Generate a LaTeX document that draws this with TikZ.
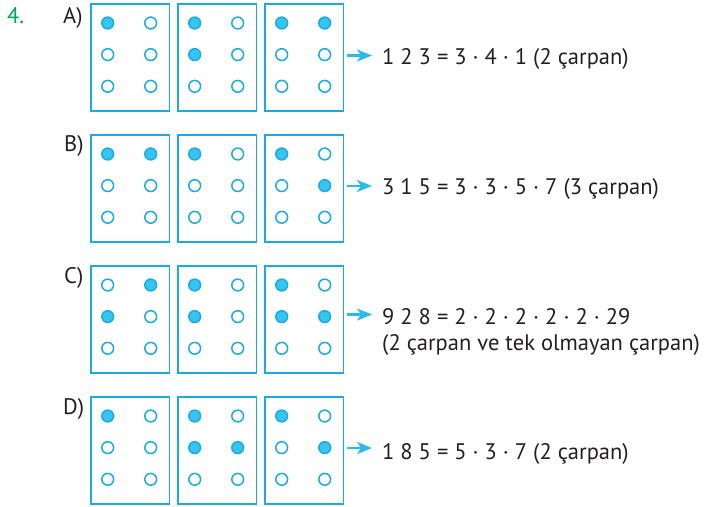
\documentclass[tikz,border=0pt]{standalone}
\usepackage{fontspec}
\setmainfont{PT Sans}
\usetikzlibrary{arrows.meta}
\definecolor{boxc}{RGB}{28,170,225}
\definecolor{dotc}{RGB}{54,197,240}
\definecolor{txt}{RGB}{35,31,32}
\definecolor{grn}{RGB}{0,166,81}
\tikzset{
  cell/.style={draw=boxc,line width=1.7pt,minimum width=78.4pt,minimum height=106.8pt,inner sep=0pt,anchor=north west},
  dot0/.style={circle,draw=boxc,line width=1.5pt,fill=white,minimum size=11.8pt,inner sep=0pt},
  dot1/.style={dot0,fill=dotc},
  lbl/.style={text=txt,font=\fontsize{22.5}{26}\selectfont,inner sep=0pt,anchor=base west},
  arr/.style={draw=dotc!60!boxc,line width=2.2pt,-{Stealth[length=15pt,width=12pt,inset=4pt]}}
}
\newcommand\brcell[9]{%
  \node[cell] (#1) at (#2+0.8,#3+0.8) {};
  \node[dot#4] (#1-a) at (#2+18.4,#3+20.7) {};
  \node[dot#5] (#1-b) at (#2+61.4,#3+20.7) {};
  \node[dot#6] (#1-c) at (#2+18.4,#3+52.3) {};
  \node[dot#7] (#1-d) at (#2+61.4,#3+52.3) {};
  \node[dot#8] (#1-e) at (#2+18.4,#3+84) {};
  \node[dot#9] (#1-f) at (#2+61.4,#3+84) {};
}
\begin{document}
\begin{tikzpicture}[x=1pt,y=-1pt]
\useasboundingbox (0,0) rectangle (708,506);
\node[lbl,text=grn] (num) at (7,23) {4.};
% Row A
\node[lbl] (labA) at (63,23) {A)};
\brcell{A1}{89.3}{2.3}{1}{0}{0}{0}{0}{0}
\brcell{A2}{176.3}{2.3}{1}{0}{1}{0}{0}{0}
\brcell{A3}{263.3}{2.3}{1}{1}{0}{0}{0}{0}
\coordinate (aA1) at (347,55.5);
\coordinate (aA2) at (372,55.5);
\draw[arr] (aA1) -- (aA2);
\node[lbl] (tA) at (382,64.3) {1 2 3 = 3 · 4 · 1 (2 çarpan)};
% Row B
\node[lbl] (labB) at (64,151.7) {B)};
\brcell{B1}{89.3}{133.3}{1}{1}{0}{0}{0}{0}
\brcell{B2}{176.3}{133.3}{1}{0}{0}{0}{0}{0}
\brcell{B3}{263.3}{133.3}{1}{0}{0}{1}{0}{0}
\coordinate (aB1) at (347,186);
\coordinate (aB2) at (372,186);
\draw[arr] (aB1) -- (aB2);
\node[lbl] (tB) at (382,194.3) {3 1 5 = 3 · 3 · 5 · 7 (3 çarpan)};
% Row C
\node[lbl] (labC) at (64,283.3) {C)};
\brcell{C1}{89.3}{264.3}{0}{1}{1}{0}{0}{0}
\brcell{C2}{176.3}{264.3}{1}{0}{1}{0}{0}{0}
\brcell{C3}{263.3}{264.3}{1}{0}{1}{1}{0}{0}
\coordinate (aC1) at (347,314.5);
\coordinate (aC2) at (372,314.5);
\draw[arr] (aC1) -- (aC2);
\node[lbl] (tC) at (382,324.5) {9 2 8 = 2 · 2 · 2 · 2 · 2 · 29};
\node[lbl] (tC2) at (382,350) {(2 çarpan ve tek olmayan çarpan)};
% Row D
\node[lbl] (labD) at (63,414) {D)};
\brcell{D1}{89.3}{395.3}{1}{0}{0}{0}{0}{0}
\brcell{D2}{176.3}{395.3}{1}{0}{1}{1}{0}{0}
\brcell{D3}{263.3}{395.3}{1}{0}{0}{1}{0}{0}
\coordinate (aD1) at (347,448);
\coordinate (aD2) at (372,448);
\draw[arr] (aD1) -- (aD2);
\node[lbl] (tD) at (382,459) {1 8 5 = 5 · 3 · 7 (2 çarpan)};
\end{tikzpicture}
\end{document}
